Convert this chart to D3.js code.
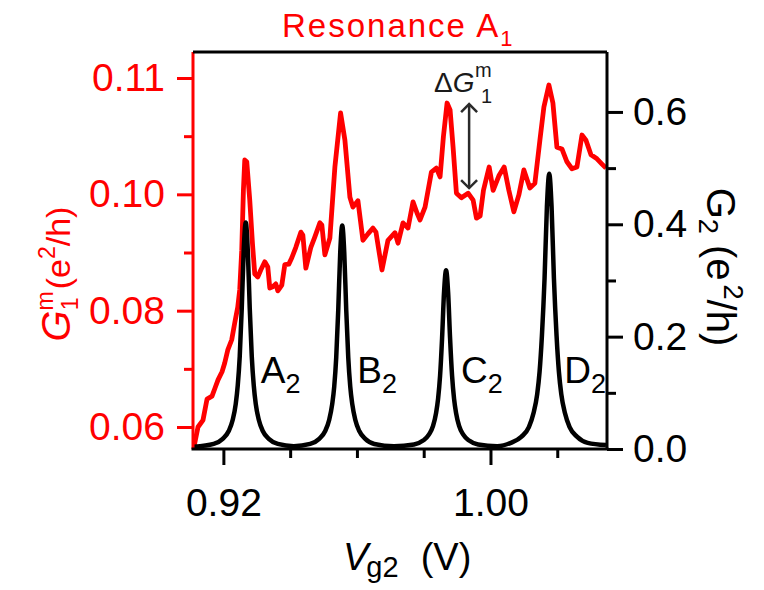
<!DOCTYPE html>
<html>
<head>
<meta charset="utf-8">
<script src="https://cdn.jsdelivr.net/npm/d3@7"></script>
<style>
  body { margin: 0; background: #fff; }
  svg { display: block; }
</style>
</head>
<body>
<svg id="chart"></svg>
<script>
// G1^m (left axis, red) vs Vg2
const g1mPoints = [
  [0.9112, 0.0566], [0.9124, 0.0600], [0.9139, 0.0612], [0.9151, 0.0648], [0.9166, 0.0653],
  [0.9175, 0.0667], [0.9184, 0.0681], [0.9196, 0.0695], [0.9204, 0.0710], [0.9213, 0.0732],
  [0.9225, 0.0750], [0.9234, 0.0779], [0.9243, 0.0806], [0.9249, 0.0836], [0.9255, 0.0904],
  [0.9260, 0.1007], [0.9264, 0.1059], [0.9270, 0.1056], [0.9279, 0.0990], [0.9287, 0.0916],
  [0.9294, 0.0863], [0.9303, 0.0858], [0.9312, 0.0870], [0.9324, 0.0884], [0.9333, 0.0875],
  [0.9339, 0.0839], [0.9348, 0.0841], [0.9357, 0.0846], [0.9363, 0.0834], [0.9375, 0.0844],
  [0.9384, 0.0879], [0.9396, 0.0880], [0.9405, 0.0891], [0.9417, 0.0909], [0.9432, 0.0935],
  [0.9438, 0.0930], [0.9447, 0.0873], [0.9462, 0.0909], [0.9474, 0.0927], [0.9489, 0.0951],
  [0.9495, 0.0947], [0.9504, 0.0896], [0.9519, 0.0925], [0.9534, 0.1047], [0.9551, 0.1140],
  [0.9564, 0.1093], [0.9579, 0.0995], [0.9588, 0.0978], [0.9603, 0.0989], [0.9618, 0.0921],
  [0.9633, 0.0932], [0.9648, 0.0942], [0.9657, 0.0935], [0.9675, 0.0870], [0.9693, 0.0921],
  [0.9714, 0.0934], [0.9723, 0.0916], [0.9738, 0.0951], [0.9753, 0.0942], [0.9768, 0.0987],
  [0.9780, 0.0968], [0.9789, 0.0956], [0.9804, 0.0978], [0.9823, 0.1038], [0.9838, 0.1045],
  [0.9849, 0.1030], [0.9859, 0.1099], [0.9870, 0.1157], [0.9879, 0.1145], [0.9888, 0.1081],
  [0.9898, 0.1002], [0.9913, 0.0994], [0.9933, 0.1002], [0.9948, 0.0990], [0.9958, 0.0959],
  [0.9969, 0.0963], [0.9979, 0.1007], [0.9996, 0.1047], [1.0008, 0.1007], [1.0026, 0.1033],
  [1.0041, 0.1047], [1.0055, 0.1007], [1.0070, 0.0970], [1.0085, 0.0999], [1.0100, 0.1042],
  [1.0118, 0.1011], [1.0133, 0.1019], [1.0148, 0.1093], [1.0160, 0.1150], [1.0175, 0.1188],
  [1.0187, 0.1157], [1.0199, 0.1081], [1.0214, 0.1078], [1.0229, 0.1056], [1.0244, 0.1044],
  [1.0259, 0.1047], [1.0274, 0.1102], [1.0286, 0.1093], [1.0301, 0.1068], [1.0319, 0.1061],
  [1.0334, 0.1052], [1.0346, 0.1045]
];

// G2 (right axis, black): four resonances A2..D2
const g2Points = [
  [0.9112, 0.004],
  [0.9171, 0.009], [0.9198, 0.018], [0.9216, 0.032], [0.9228, 0.052], [0.9237, 0.080],
  [0.9243, 0.113], [0.9249, 0.165], [0.9255, 0.250], [0.9261, 0.355], [0.9267, 0.403],
  [0.9273, 0.355], [0.9279, 0.250], [0.9285, 0.165], [0.9291, 0.113], [0.9297, 0.080],
  [0.9306, 0.052], [0.9318, 0.032], [0.9336, 0.018], [0.9363, 0.009], [0.9411, 0.005],
  [0.9460, 0.009], [0.9487, 0.018], [0.9505, 0.032], [0.9517, 0.052], [0.9526, 0.080],
  [0.9532, 0.111], [0.9538, 0.163], [0.9544, 0.247], [0.9550, 0.350], [0.9556, 0.398],
  [0.9562, 0.350], [0.9568, 0.247], [0.9574, 0.163], [0.9580, 0.111], [0.9586, 0.080],
  [0.9595, 0.052], [0.9607, 0.032], [0.9625, 0.018], [0.9652, 0.009], [0.9711, 0.005],
  [0.9771, 0.008], [0.9798, 0.015], [0.9816, 0.026], [0.9828, 0.041], [0.9837, 0.064],
  [0.9843, 0.089], [0.9849, 0.130], [0.9855, 0.197], [0.9861, 0.280], [0.9867, 0.318],
  [0.9873, 0.280], [0.9879, 0.197], [0.9885, 0.130], [0.9891, 0.089], [0.9897, 0.064],
  [0.9906, 0.041], [0.9918, 0.026], [0.9936, 0.015], [0.9963, 0.008], [1.0020, 0.005],
  [1.0061, 0.011], [1.0093, 0.022], [1.0115, 0.039], [1.0129, 0.064], [1.0140, 0.098],
  [1.0147, 0.137], [1.0154, 0.201], [1.0162, 0.304], [1.0169, 0.431], [1.0176, 0.490],
  [1.0183, 0.431], [1.0190, 0.304], [1.0198, 0.201], [1.0205, 0.137], [1.0212, 0.098],
  [1.0223, 0.064], [1.0237, 0.039], [1.0259, 0.022], [1.0291, 0.011], [1.0346, 0.007]
];

const peakNames = ['A', 'B', 'C', 'D'];
const peakCenters = [0.9267, 0.9556, 0.9867, 1.0176];

const xMajor = [0.92, 1.00];
const xMajorLabels = ['0.92', '1.00'];
const xMinor = [0.94, 0.96, 0.98, 1.02];

// the top label reads 0.11 in the original figure
const leftMajor = [0.06, 0.08, 0.10, 0.12];
const leftMajorLabels = ['0.06', '0.08', '0.10', '0.11'];
const leftMinor = [0.07, 0.09, 0.11];

const rightMajor = [0, 0.2, 0.4, 0.6];
const rightMajorLabels = ['0.0', '0.2', '0.4', '0.6'];
const rightMinor = [0.1, 0.3, 0.5];

// Delta G1^m arrow: from the background to the top of resonance C
const deltaV = 0.9936;
const deltaLow = 0.1009;
const deltaHigh = 0.1157;

const W = 764, H = 590;
const margin = { top: 52, right: 157, bottom: 141, left: 193 };
const width = W - margin.left - margin.right;
const height = H - margin.top - margin.bottom;
const RED = '#ff0000';
const INK = '#000';
const FONT = '"Liberation Sans", Arial, Helvetica, sans-serif';

const svg = d3.select('#chart')
  .attr('width', W)
  .attr('height', H)
  .attr('font-family', FONT);

const x = d3.scaleLinear().domain([0.9109, 1.0349]).range([0, width]);
const yL = d3.scaleLinear().domain([0.05622, 0.12447]).range([height, 0]);
const yR = d3.scaleLinear().domain([0, 0.7067]).range([height, 0]);

const plot = svg.append('g').attr('transform', `translate(${margin.left},${margin.top})`);

plot.append('clipPath').attr('id', 'plotClip')
  .append('rect').attr('width', width).attr('height', height);

// curves
const redLine = d3.line().x(d => x(d[0])).y(d => yL(d[1]));
const blackLine = d3.line().x(d => x(d[0])).y(d => yR(d[1])).curve(d3.curveMonotoneX);

plot.append('path')
  .datum(g1mPoints)
  .attr('d', redLine)
  .attr('fill', 'none')
  .attr('stroke', RED)
  .attr('stroke-width', 4.8)
  .attr('stroke-linejoin', 'round')
  .attr('clip-path', 'url(#plotClip)');

plot.append('path')
  .datum(g2Points)
  .attr('d', blackLine)
  .attr('fill', 'none')
  .attr('stroke', INK)
  .attr('stroke-width', 4.5)
  .attr('stroke-linejoin', 'round')
  .attr('clip-path', 'url(#plotClip)');

// axes
const styleAxis = (sel, color) => {
  sel.attr('font-family', FONT).attr('font-size', 39);
  sel.select('.domain').remove();
  sel.selectAll('.tick line').attr('stroke', color).attr('stroke-width', 3);
  sel.selectAll('.tick text').attr('fill', color);
};

plot.append('g')
  .attr('transform', `translate(0,${height})`)
  .call(d3.axisBottom(x).tickValues(xMinor).tickFormat('').tickSize(9))
  .call(styleAxis, INK);
plot.append('g')
  .attr('transform', `translate(0,${height})`)
  .call(d3.axisBottom(x).tickValues(xMajor)
    .tickFormat(d => xMajorLabels[xMajor.indexOf(d)]).tickSize(16).tickPadding(23))
  .call(styleAxis, INK);

plot.append('g')
  .call(d3.axisLeft(yL).tickValues(leftMinor).tickFormat('').tickSize(9))
  .call(styleAxis, RED);
plot.append('g')
  .call(d3.axisLeft(yL).tickValues(leftMajor)
    .tickFormat(d => leftMajorLabels[leftMajor.indexOf(d)]).tickSize(16).tickPadding(12))
  .call(styleAxis, RED);

plot.append('g')
  .attr('transform', `translate(${width},0)`)
  .call(d3.axisRight(yR).tickValues(rightMinor).tickFormat('').tickSize(9))
  .call(styleAxis, INK);
plot.append('g')
  .attr('transform', `translate(${width},0)`)
  .call(d3.axisRight(yR).tickValues(rightMajor)
    .tickFormat(d => rightMajorLabels[rightMajor.indexOf(d)]).tickSize(16).tickPadding(10))
  .call(styleAxis, INK);

// frame
plot.append('line').attr('x1', 0).attr('x2', 0).attr('y1', 0).attr('y2', height)
  .attr('stroke', RED).attr('stroke-width', 3);
plot.append('line').attr('x1', 0).attr('x2', width).attr('y1', 0).attr('y2', 0)
  .attr('stroke', INK).attr('stroke-width', 3);
plot.append('line').attr('x1', width).attr('x2', width).attr('y1', 0).attr('y2', height)
  .attr('stroke', INK).attr('stroke-width', 3);
plot.append('line').attr('x1', -1.5).attr('x2', width + 1.5).attr('y1', height).attr('y2', height)
  .attr('stroke', INK).attr('stroke-width', 3);

// peak labels
peakNames.forEach((name, i) => {
  const t = plot.append('text')
    .attr('x', x(peakCenters[i]) + 15)
    .attr('y', yR(0.1166))
    .attr('font-size', 37)
    .attr('fill', INK);
  t.append('tspan').text(name);
  t.append('tspan').attr('font-size', 27).attr('dy', 10).text('2');
});

// Delta G arrow
const ax = x(deltaV);
const aTop = yL(deltaHigh), aBot = yL(deltaLow);
const arrow = plot.append('g').attr('stroke', '#2a2a2a').attr('stroke-width', 2.5).attr('fill', 'none');
arrow.append('line').attr('x1', ax).attr('x2', ax).attr('y1', aTop + 1).attr('y2', aBot - 1);
arrow.append('path').attr('d', `M${ax - 8},${aTop + 9}L${ax},${aTop + 1}L${ax + 8},${aTop + 9}`);
arrow.append('path').attr('d', `M${ax - 8},${aBot - 9}L${ax},${aBot - 1}L${ax + 8},${aBot - 9}`);

const dg = plot.append('text')
  .attr('x', ax - 35)
  .attr('y', aTop - 11)
  .attr('font-size', 28)
  .attr('fill', '#1a1a1a');
dg.append('tspan').text('Δ');
dg.append('tspan').attr('font-style', 'italic').text('G');
plot.append('text').attr('x', ax + 6).attr('y', aTop - 26)
  .attr('font-size', 20).attr('fill', '#1a1a1a').text('m');
plot.append('text').attr('x', ax + 12).attr('y', aTop)
  .attr('font-size', 20).attr('fill', '#1a1a1a').text('1');

// title
const title = svg.append('text')
  .attr('x', 282)
  .attr('y', 37)
  .attr('font-size', 33)
  .attr('letter-spacing', 2)
  .attr('fill', RED);
title.append('tspan').text('Resonance A');
title.append('tspan').attr('font-size', 22).attr('dy', 9).text('1');

// left axis title
const lt = svg.append('text')
  .attr('transform', 'translate(70,274) rotate(-90)')
  .attr('text-anchor', 'middle')
  .attr('font-size', 34)
  .attr('fill', RED);
lt.append('tspan').attr('font-style', 'italic').attr('font-size', 40).text('G');
lt.append('tspan').attr('font-size', 23).attr('dy', 8).text('1');
lt.append('tspan').attr('font-size', 23).attr('dx', -13).attr('dy', -25).text('m');
lt.append('tspan').attr('dy', 17).attr('dx', 2).text('(e');
lt.append('tspan').attr('font-size', 23).attr('dy', -15).text('2');
lt.append('tspan').attr('dy', 15).text('/h)');

// right axis title
const rt = svg.append('text')
  .attr('transform', 'translate(707,267) rotate(90)')
  .attr('text-anchor', 'middle')
  .attr('font-size', 40)
  .attr('fill', INK);
rt.append('tspan').text('G');
rt.append('tspan').attr('font-size', 27).attr('dy', 8).text('2');
rt.append('tspan').attr('dy', -8).text(' (e');
rt.append('tspan').attr('font-size', 27).attr('dy', -17).attr('dx', 4).text('2');
rt.append('tspan').attr('dy', 17).text('/h)');

// bottom axis title
const bt = svg.append('text')
  .attr('x', 343)
  .attr('y', 570)
  .attr('font-size', 38)
  .attr('fill', INK);
bt.append('tspan').attr('font-style', 'italic').text('V');
bt.append('tspan').attr('font-size', 29).attr('dy', 7).attr('dx', -2).text('g2');
bt.append('tspan').attr('dy', -7).attr('dx', 22).text('(V)');
</script>
</body>
</html>
